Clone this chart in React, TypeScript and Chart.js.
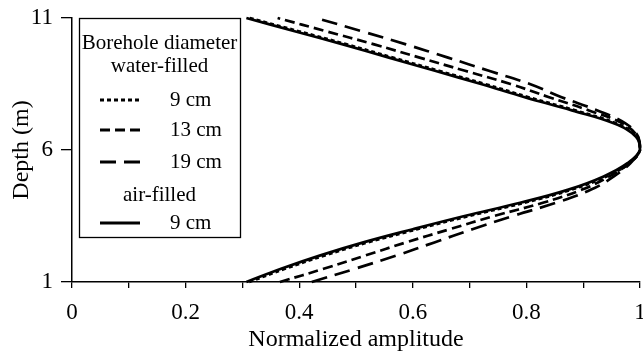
import React, { useEffect, useRef } from 'react';
import { Chart, registerables } from 'chart.js';

Chart.register(...registerables);

// Depth (m) sampling of each profile
const depths = [1, 1.5, 2, 2.5, 3, 3.5, 4, 4.5, 5, 5.5, 6, 6.5, 7, 7.5, 8, 8.5, 9, 9.5, 10, 10.5, 11];

// Normalized amplitude per depth
const water9 = [0.312, 0.375, 0.444, 0.521, 0.608, 0.699, 0.796, 0.88, 0.941, 0.981, 1.0, 0.995, 0.959, 0.886, 0.804, 0.727, 0.646, 0.565, 0.484, 0.399, 0.313];
const water13 = [0.366, 0.443, 0.516, 0.588, 0.665, 0.743, 0.829, 0.898, 0.946, 0.981, 1.0, 0.996, 0.97, 0.91, 0.84, 0.772, 0.692, 0.612, 0.532, 0.447, 0.362];
const water19 = [0.422, 0.498, 0.571, 0.638, 0.705, 0.776, 0.852, 0.914, 0.954, 0.983, 1.0, 0.997, 0.975, 0.925, 0.862, 0.806, 0.734, 0.662, 0.588, 0.51, 0.43];
const air9 = [0.307, 0.368, 0.436, 0.513, 0.6, 0.691, 0.789, 0.874, 0.936, 0.978, 1.0, 0.993, 0.955, 0.88, 0.797, 0.72, 0.639, 0.558, 0.477, 0.392, 0.307];

const seriesLabels = ['9 cm', '13 cm', '19 cm', '9 cm'];
const legendHeadings = ['Borehole diameter', 'water-filled', 'air-filled'];
const xTickLabels = ['0', '0.2', '0.4', '0.6', '0.8', '1'];
const yTickLabels = ['1', '6', '11'];
const xTitle = 'Normalized amplitude';
const yTitle = 'Depth (m)';

const FONT = "'Liberation Serif', 'Times New Roman', serif";

const dashes: number[][] = [[4, 3], [10, 5], [16, 8], []];

const toPoints = (xs: number[]) => xs.map((x, i) => ({ x, y: depths[i] }));

const legendPlugin = {
  id: 'boreholeLegend',
  afterDraw(chart: any) {
    const { ctx, chartArea } = chart;
    const x0 = chartArea.left + 7;
    const y0 = chartArea.top;
    const w = 161;
    const h = 219;
    ctx.save();
    ctx.fillStyle = '#ffffff';
    ctx.fillRect(x0, y0, w, h);
    ctx.strokeStyle = '#000';
    ctx.lineWidth = 1.3;
    ctx.strokeRect(x0 + 0.5, y0 + 0.5, w, h);
    ctx.font = `21px ${FONT}`;
    ctx.fillStyle = '#000';
    ctx.textBaseline = 'middle';
    ctx.textAlign = 'center';
    const cx = x0 + w / 2;
    ctx.fillText(legendHeadings[0], cx, y0 + 25);
    ctx.fillText(legendHeadings[1], cx, y0 + 48);
    ctx.fillText(legendHeadings[2], cx, y0 + 177);
    const rows = [y0 + 82, y0 + 112, y0 + 144, y0 + 205];
    const ds = chart.data.datasets;
    rows.forEach((ry: number, i: number) => {
      ctx.beginPath();
      ctx.setLineDash(ds[i].borderDash || []);
      ctx.lineWidth = 2.9;
      ctx.strokeStyle = '#000';
      ctx.moveTo(x0 + 21, ry);
      ctx.lineTo(x0 + 61, ry);
      ctx.stroke();
      ctx.setLineDash([]);
      ctx.textAlign = 'left';
      ctx.fillText(ds[i].label, x0 + 91, ry);
    });
    ctx.restore();
  },
};

export default function App() {
  const ref = useRef<HTMLCanvasElement>(null);
  useEffect(() => {
    if (!ref.current) return;
    const series = [water9, water13, water19, air9];
    const chart = new Chart(ref.current, {
      type: 'scatter',
      data: {
        datasets: series.map((s, i) => ({
          label: seriesLabels[i],
          data: toPoints(s),
          showLine: true,
          borderColor: '#000',
          backgroundColor: '#000',
          borderWidth: 2.7,
          borderDash: dashes[i],
          pointRadius: 0,
          tension: 0.4,
          clip: false as any,
        })),
      },
      options: {
        animation: false,
        responsive: false,
        devicePixelRatio: 1,
        layout: { padding: { top: 18, right: 3, left: 0, bottom: 0 } },
        plugins: { legend: { display: false }, tooltip: { enabled: false } },
        scales: {
          x: {
            type: 'linear',
            min: 0,
            max: 1,
            afterFit: (s: any) => {
              s.height = 72;
              s.paddingLeft = 0;
              s.paddingRight = 0;
            },
            border: { display: true, color: '#000', width: 1.5 },
            grid: { drawOnChartArea: false, drawTicks: true, tickLength: 6, color: '#000', lineWidth: 1.3 },
            ticks: {
              stepSize: 0.1,
              autoSkip: false,
              maxRotation: 0,
              padding: 11,
              color: '#000',
              font: { family: FONT, size: 23 },
              callback: (v: any) => {
                const k = Math.round(Number(v) * 10);
                return k % 2 === 0 ? xTickLabels[k / 2] : '';
              },
            },
            title: {
              display: true,
              text: xTitle,
              color: '#000',
              font: { family: FONT, size: 24 },
              padding: { top: 0, bottom: 0 },
            },
          },
          y: {
            type: 'linear',
            min: 1,
            max: 11,
            afterFit: (s: any) => {
              s.width = 72;
              s.paddingTop = 0;
              s.paddingBottom = 0;
            },
            border: { display: true, color: '#000', width: 1.5 },
            grid: { drawOnChartArea: false, drawTicks: true, tickLength: 11, color: '#000', lineWidth: 1.3 },
            ticks: {
              stepSize: 5,
              padding: 8,
              color: '#000',
              font: { family: FONT, size: 23 },
              callback: (v: any) => {
                const idx = [1, 6, 11].indexOf(Math.round(Number(v)));
                return idx >= 0 ? yTickLabels[idx] : '';
              },
            },
            title: {
              display: true,
              text: yTitle,
              color: '#000',
              font: { family: FONT, size: 24 },
              padding: { top: 7, bottom: 0 },
            },
          },
        },
      },
      plugins: [legendPlugin],
    });
    return () => chart.destroy();
  }, []);
  return (
    <div style={{ position: 'absolute', left: 0, top: 0, width: 643, height: 354, background: '#fff' }}>
      <canvas ref={ref} width={643} height={354} style={{ display: 'block', width: 643, height: 354 }} />
    </div>
  );
}
